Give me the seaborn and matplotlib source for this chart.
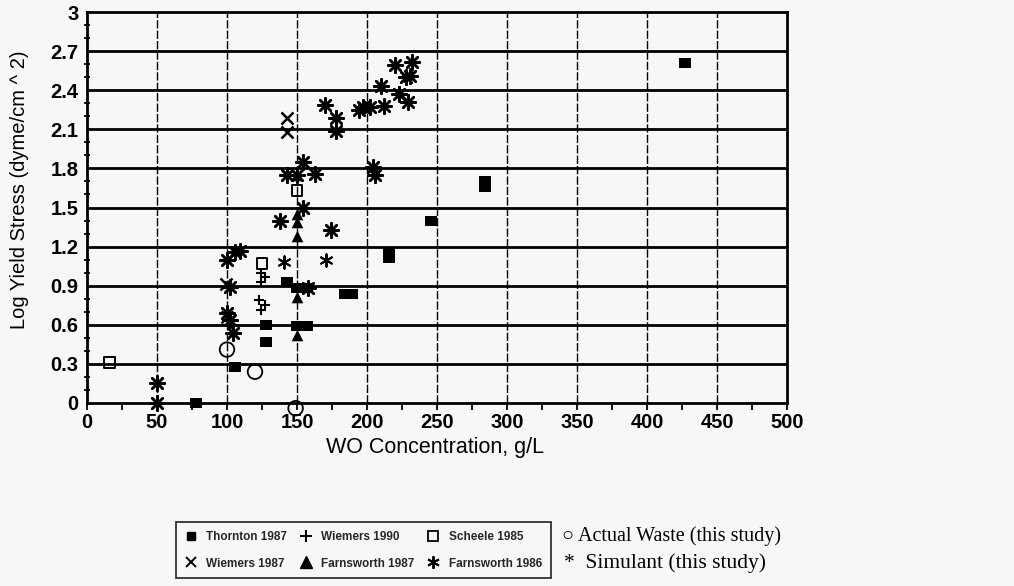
import matplotlib
matplotlib.use("Agg")
import matplotlib.pyplot as plt
from matplotlib.lines import Line2D
from matplotlib.ticker import MultipleLocator
import seaborn as sns
import pandas as pd

# ---------------- data ----------------
thornton_x = [78, 106, 128, 128, 143, 150, 157, 150, 157, 184, 189, 216, 216, 246, 284, 284, 427]
thornton_y = [0.0, 0.28, 0.47, 0.60, 0.93, 0.88, 0.88, 0.59, 0.59, 0.84, 0.84, 1.11, 1.16, 1.40, 1.66, 1.70, 2.61]

wiemers87_x = [143, 143, 99, 100]
wiemers87_y = [2.19, 2.08, 0.91, 0.66]

wiemers90_x = [124, 127, 124, 123, 127, 124]
wiemers90_y = [1.00, 0.97, 0.93, 0.79, 0.75, 0.71]

scheele_x = [16, 125, 150]
scheele_y = [0.31, 1.07, 1.63]

farns87_x = [150, 150, 150, 150, 150, 150]
farns87_y = [0.52, 0.81, 1.28, 1.39, 1.45, 1.75]

farns86_x = [50, 50, 100, 106, 109, 102, 100, 102, 104, 138, 154, 174, 143, 154, 163, 158,
             170, 178, 178, 194, 197, 202, 212, 210, 220, 232, 228, 231, 223, 229, 204, 206, 150]
farns86_y = [0.0, 0.15, 1.10, 1.16, 1.17, 0.89, 0.69, 0.64, 0.54, 1.40, 1.50, 1.33, 1.75, 1.85, 1.76, 0.88,
             2.29, 2.19, 2.09, 2.25, 2.27, 2.27, 2.28, 2.43, 2.59, 2.62, 2.50, 2.51, 2.37, 2.31, 1.81, 1.75, 1.75]

simulant_x = [141, 171]
simulant_y = [1.08, 1.10]

waste_x = [100, 120, 149]
waste_y = [0.41, 0.24, -0.04]

legend_labels = ["Thornton 1987", "Wiemers 1987", "Wiemers 1990",
                 "Farnsworth 1987", "Scheele 1985", "Farnsworth 1986"]
x_ticks = [0, 50, 100, 150, 200, 250, 300, 350, 400, 450, 500]
y_ticks = [0, 0.3, 0.6, 0.9, 1.2, 1.5, 1.8, 2.1, 2.4, 2.7, 3]
y_ticklabels = ["0", "0.3", "0.6", "0.9", "1.2", "1.5", "1.8", "2.1", "2.4", "2.7", "3"]
x_label = "WO Concentration, g/L"
y_label = "Log Yield Stress (dyme/cm ^ 2)"
annot1 = "Actual Waste (this study)"
annot2 = "Simulant (this study)"

# ---------------- style ----------------
sns.set_theme(style="white")
plt.rcParams["font.family"] = ["Liberation Sans", "DejaVu Sans"]
BG = "#f7f7f7"

fig = plt.figure(figsize=(10.14, 5.86), dpi=100, facecolor=BG)
ax = fig.add_axes([87 / 1014, (586 - 403) / 586, 700 / 1014, 391 / 586])
ax.set_facecolor(BG)

ast8 = (8, 2, 0)
ast6 = (6, 2, 0)
rect = [(-1.4, -1), (1.4, -1), (1.4, 1), (-1.4, 1), (-1.4, -1)]

series = [
    (thornton_x, thornton_y, dict(marker=rect, s=85, color="black", linewidth=0)),
    (wiemers87_x, wiemers87_y, dict(marker="x", s=75, color="black", linewidth=1.8)),
    (wiemers90_x, wiemers90_y, dict(marker="+", s=60, color="black", linewidth=1.5)),
    (scheele_x, scheele_y, dict(marker="s", s=55, facecolor="none", edgecolor="black", linewidth=1.4)),
    (farns87_x, farns87_y, dict(marker="^", s=70, color="black", linewidth=0)),
    (farns86_x, farns86_y, dict(marker=ast8, s=110, color="black", linewidth=1.8)),
    (simulant_x, simulant_y, dict(marker=ast6, s=80, color="black", linewidth=1.4)),
    (waste_x, waste_y, dict(marker="o", s=110, facecolor="none", edgecolor="black", linewidth=1.3)),
]
for xs, ys, kw in series:
    df = pd.DataFrame({"x": xs, "y": ys})
    sns.scatterplot(data=df, x="x", y="y", ax=ax, clip_on=False, zorder=5, **kw)

ax.set_xlim(0, 500)
ax.set_ylim(0, 3)
ax.set_xticks(x_ticks)
ax.set_xticklabels([str(t) for t in x_ticks])
ax.set_yticks(y_ticks)
ax.set_yticklabels(y_ticklabels)
ax.xaxis.set_minor_locator(MultipleLocator(25))
ax.yaxis.set_minor_locator(MultipleLocator(0.1))

for yv in y_ticks[1:-1]:
    ax.axhline(yv, color="black", lw=2.0, zorder=1)
for xv in x_ticks[1:-1]:
    ax.axvline(xv, color="black", lw=1.0, ls=(0, (6, 1.5)), zorder=1)

for sp in ax.spines.values():
    sp.set_color("black")
    sp.set_linewidth(2.0)
    sp.set_visible(True)

ax.tick_params(axis="both", which="both", colors="black")
ax.tick_params(axis="y", which="major", direction="inout", length=10, width=1.3, labelsize=14.5, pad=1)
ax.tick_params(axis="y", which="minor", direction="inout", length=5, width=1.3, left=True)
ax.tick_params(axis="x", which="major", direction="out", length=5, width=1.3, labelsize=14.5, pad=2, bottom=True)
ax.tick_params(axis="x", which="minor", direction="out", length=5, width=1.3, bottom=True)
for lab in ax.get_xticklabels() + ax.get_yticklabels():
    lab.set_fontweight("bold")

ax.set_xlabel(x_label, fontsize=15.5, color="black")
ax.set_ylabel(y_label, fontsize=14.5, color="black")
ax.xaxis.set_label_coords(0.497, -0.087)
ax.yaxis.set_label_coords(-0.083, 0.545)

# legend
handles = [
    Line2D([], [], ls="none", marker="s", ms=6, color="black"),
    Line2D([], [], ls="none", marker="x", ms=7, color="black", mew=1.4),
    Line2D([], [], ls="none", marker="+", ms=8, color="black", mew=1.4),
    Line2D([], [], ls="none", marker="^", ms=8, color="black"),
    Line2D([], [], ls="none", marker="s", ms=7, mfc="none", mec="black", mew=1.3),
    Line2D([], [], ls="none", marker=ast6, ms=9, color="black", mew=1.4),
]
leg = fig.legend(handles, legend_labels, ncol=3, loc="upper left",
                 bbox_to_anchor=(176 / 1014, 1 - 522 / 586),
                 frameon=True, fancybox=False, edgecolor="black", facecolor=BG,
                 prop={"family": "Liberation Sans", "weight": "bold", "size": 8.5},
                 handlelength=1.0, handletextpad=0.8, columnspacing=1.1,
                 borderpad=0.75, labelspacing=1.25, borderaxespad=0)
leg.get_frame().set_linewidth(1.3)

fig.text(562 / 1014, 1 - 536 / 586, "\u25cb " + annot1, fontsize=14.5,
         family=["Liberation Serif", "DejaVu Serif"], va="center", ha="left", color="black")
fig.text(564 / 1014, 1 - 563 / 586, "*  " + annot2, fontsize=15.5,
         family=["Liberation Serif", "DejaVu Serif"], va="center", ha="left", color="black")

fig.savefig("out.png", dpi=100, facecolor=BG)
